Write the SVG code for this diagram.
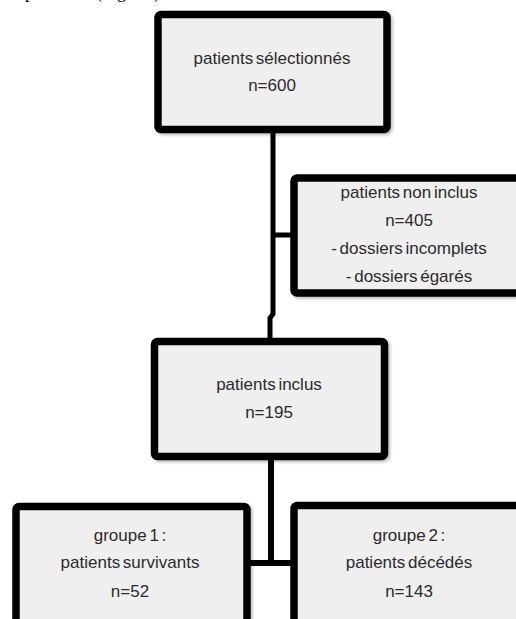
<svg xmlns="http://www.w3.org/2000/svg" width="516" height="619" viewBox="0 0 516 619">
<defs>
<filter id="sh" x="-10%" y="-10%" width="130%" height="130%">
<feDropShadow dx="2" dy="2" stdDeviation="1.5" flood-color="#000" flood-opacity="0.25"/>
</filter>
</defs>
<style>
.box{fill:#efefef;stroke:#000;stroke-width:7.5;filter:url(#sh)}
.t{font-family:"Liberation Sans",Arial,sans-serif;font-size:17px;fill:#2b2b2b;text-anchor:middle;word-spacing:-2px}
.c{fill:none;stroke:#000;stroke-linejoin:miter}
.top{font-family:"Liberation Serif","Times New Roman",serif;font-size:18px;fill:#000}
</style>
<rect width="516" height="619" fill="#fff"/>
<text class="top" x="25" y="-2">patients <tspan x="96">(Fig. 1</tspan><tspan x="154">)</tspan></text>
<g id="connectors">
<path class="c" stroke-width="5" d="M273,130 V314 L270,318 V342"/>
<path class="c" stroke-width="5" d="M273,235 H294"/>
<path class="c" stroke-width="6" d="M271,456 V563"/>
<path class="c" stroke-width="6" d="M247,563 H294"/>
</g>
<g id="n1">
<rect class="box" x="158" y="14.5" width="229" height="115" rx="3"/>
<text class="t" x="272" y="64">patients sélectionnés</text>
<text class="t" x="272" y="91">n=600</text>
</g>
<g id="n2">
<rect class="box" x="294" y="178" width="230" height="115" rx="3"/>
<text class="t" x="409" y="198">patients non inclus</text>
<text class="t" x="409" y="226">n=405</text>
<text class="t" x="409" y="254">- dossiers incomplets</text>
<text class="t" x="409" y="282">- dossiers égarés</text>
</g>
<g id="n3">
<rect class="box" x="154.5" y="341.5" width="230" height="115" rx="3"/>
<text class="t" x="269" y="390">patients inclus</text>
<text class="t" x="269" y="418">n=195</text>
</g>
<g id="n4">
<rect class="box" x="16" y="506.5" width="231" height="130" rx="3"/>
<text class="t" x="130" y="541">groupe 1 :</text>
<text class="t" x="130" y="568">patients survivants</text>
<text class="t" x="130" y="597">n=52</text>
</g>
<g id="n5">
<rect class="box" x="294" y="505.5" width="230" height="130" rx="3"/>
<text class="t" x="409" y="541">groupe 2 :</text>
<text class="t" x="409" y="568">patients décédés</text>
<text class="t" x="409" y="597">n=143</text>
</g>
</svg>
